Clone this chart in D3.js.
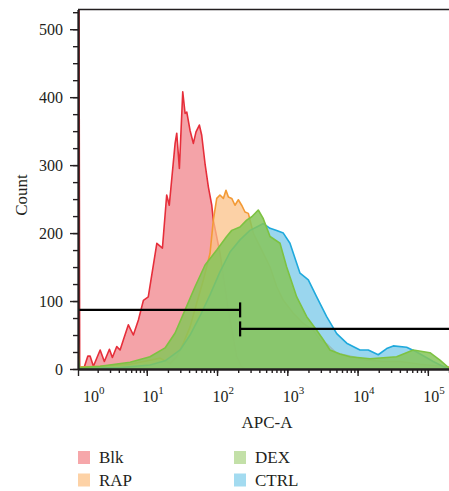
<!DOCTYPE html>
<html>
<head>
<meta charset="utf-8">
<script src="https://cdn.jsdelivr.net/npm/d3@7"></script>
<style>
    body { margin: 0; background: #fff; }
    svg { display: block; font-family: "Liberation Serif", "DejaVu Serif", serif; }
</style>
</head>
<body>
<div id="flow-graph"></div>
<script>
// histogram values: [APC-A, count]
var blkData = [
    [1.05, 0], [1.07, 900], [1.11, 2], [1.29, 3], [1.45, 19], [1.56, 19], [1.74, 4], [2.17, 28], [2.49, 11],
    [2.94, 29], [3.24, 17], [3.74, 33], [4.17, 28], [4.65, 43], [5.47, 65], [6.44, 50], [7.6, 72],
    [8.95, 101], [10.5, 106], [13.9, 185], [16.7, 178], [19.2, 256], [20.9, 241], [25.3, 332],
    [26.7, 347], [29.1, 295], [32.5, 408], [35.1, 376], [37.1, 378], [41.3, 351], [46.0, 332],
    [50.2, 349], [56.0, 359], [60.5, 344], [67.5, 302], [75.2, 268], [84.1, 241], [88.5, 219],
    [110, 171], [145, 87], [191, 18], [224, 3], [260, 0], [200000, 0]
];
var rapData = [
    [1.05, 47], [1.1, 3], [2.17, 4], [5.78, 7], [11.1, 13], [15.5, 16], [21.4, 8], [26.7, 18],
    [33.2, 38], [41.3, 62], [51.4, 97], [63.8, 131], [79.4, 170], [88.5, 219], [99, 251],
    [110, 256], [123, 251], [134, 263], [145, 253], [162, 251], [180, 241], [201, 249], [224, 241],
    [250, 231], [279, 229], [328, 200], [456, 170], [568, 150], [706, 121], [877, 101], [1216, 82],
    [1690, 67], [2344, 57], [2917, 43], [3631, 37], [5047, 23], [7798, 19], [13460, 13],
    [23230, 11], [40090, 11], [77270, 7], [200000, 3]
];
var dexData = [
    [1.05, 20], [1.1, 2], [2.17, 4], [5.78, 10], [11.1, 18], [18.2, 31], [25.3, 53], [35.1, 87],
    [48.6, 121], [67.5, 153], [99, 175], [137, 195], [162, 204], [212, 209], [264, 219], [312, 224],
    [386, 234], [451, 222], [568, 195], [787, 185], [979, 150], [1361, 106], [1888, 77], [2618, 57],
    [3251, 43], [4046, 28], [5623, 22], [7798, 18], [15030, 15], [35970, 18], [61940, 28],
    [107200, 24], [148600, 13], [200000, 1.5]
];
var ctrlData = [
    [1.05, 10], [1.1, 1], [4.17, 2], [11.1, 6], [18.2, 12], [29.8, 28], [41.3, 50], [57.3, 78],
    [79.4, 109], [110, 143], [153, 172], [212, 190], [294, 204], [367, 209], [456, 214], [568, 207],
    [690, 204], [877, 200], [1091, 185], [1517, 141], [1991, 131], [2618, 106], [3631, 77],
    [5047, 52], [7000, 38], [10810, 28], [14190, 28], [19680, 21], [25940, 30], [32210, 34],
    [49890, 32], [69340, 25], [119400, 11], [184900, 1], [200000, 0.5]
];

var seriesNames = ['Blk', 'RAP', 'DEX', 'CTRL'];
var drawOrder = ['Blk', 'RAP', 'CTRL', 'DEX'];
var xTickValues = [1, 10, 100, 1000, 10000, 100000];
var xTickExponents = ['0', '1', '2', '3', '4', '5'];
var yTickValues = [0, 100, 200, 300, 400, 500];
var gateBounds = [1.05, 213, 200000];
var gateCounts = [87, 59];

var seriesStyle = {
    'Blk':  {fill: '#f0848b', opacity: 0.75, line: '#e62e3a', legend: '#f6a7aa'},
    'RAP':  {fill: '#fbc288', opacity: 0.75, line: '#f39a35', legend: '#fdd2a6'},
    'CTRL': {fill: '#78c8e8', opacity: 0.75, line: '#1fa9dc', legend: '#a3dbf0'},
    'DEX':  {fill: '#86c65a', opacity: 0.85, line: '#7dc242', legend: '#c3e0a8'}
};
var seriesData = {'Blk': blkData, 'RAP': rapData, 'DEX': dexData, 'CTRL': ctrlData};

var width = 449, height = 491;
var plot = {left: 78, right: 449, top: 9.5, bottom: 369};
var ink = '#231f20';

var svg = d3.select('#flow-graph').append('svg')
            .attr('width', width)
            .attr('height', height);

var x = d3.scaleLog()
          .domain([1.05, 200000])
          .range([plot.left, plot.right]);

var y = d3.scaleLinear()
          .domain([0, 529])
          .range([plot.bottom, plot.top]);

svg.append('clipPath').attr('id', 'plot-clip')
   .append('rect')
   .attr('x', plot.left).attr('y', plot.top)
   .attr('width', plot.right - plot.left).attr('height', plot.bottom - plot.top);

var createHistograms = function createHistograms() {
    var layer = svg.append('g').attr('clip-path', 'url(#plot-clip)');
    var area = d3.area()
                 .x(function(d) { return x(d[0]); })
                 .y0(y(0))
                 .y1(function(d) { return y(d[1]); });
    var line = d3.line()
                 .x(function(d) { return x(d[0]); })
                 .y(function(d) { return y(d[1]); });

    drawOrder.forEach(function(name) {
        var st = seriesStyle[name];
        layer.append('path')
             .datum(seriesData[name])
             .attr('d', area)
             .attr('fill', st.fill)
             .attr('fill-opacity', st.opacity);
        layer.append('path')
             .datum(seriesData[name])
             .attr('d', line)
             .attr('fill', 'none')
             .attr('stroke', st.line)
             .attr('stroke-width', 1.6)
             .attr('stroke-linejoin', 'round');
    });
}

var createGates = function createGates() {
    var g = svg.append('g').attr('stroke', '#000').attr('stroke-width', 2.2);
    for (var i = 0; i < gateCounts.length; i++) {
        g.append('line')
         .attr('x1', x(gateBounds[i])).attr('x2', x(gateBounds[i + 1]))
         .attr('y1', y(gateCounts[i])).attr('y2', y(gateCounts[i]));
        // end bar sits on the shared boundary
        g.append('line')
         .attr('x1', x(gateBounds[1])).attr('x2', x(gateBounds[1]))
         .attr('y1', y(gateCounts[i]) - 7.5).attr('y2', y(gateCounts[i]) + 7.5);
    }
}

var createAxis = function createAxis() {
    // frame top
    svg.append('line')
       .attr('x1', plot.left).attr('x2', plot.right)
       .attr('y1', plot.top).attr('y2', plot.top)
       .attr('stroke', ink).attr('stroke-width', 1.4);

    // y axis: minor every 25, labels every 100
    var yMinor = d3.axisLeft(y).tickValues(d3.range(0, 526, 25)).tickSize(5).tickSizeOuter(0).tickFormat('');
    var yMajor = d3.axisLeft(y).tickValues(yTickValues).tickSize(8).tickSizeOuter(0).tickPadding(7);
    svg.append('g').attr('transform', 'translate(' + plot.left + ',0)').call(yMinor);
    svg.append('g').attr('class', 'y-major').attr('transform', 'translate(' + plot.left + ',0)').call(yMajor);

    // x axis: log minor ticks, decades long
    var lo = x.domain()[0];
    var xMinor = d3.axisBottom(x).tickValues(x.ticks()).tickSize(4).tickSizeOuter(0).tickFormat('');
    var xMajor = d3.axisBottom(x)
                   .tickValues(xTickValues.map(function(d) { return Math.max(d, lo); }))
                   .tickSize(7).tickSizeOuter(0).tickFormat('');
    svg.append('g').attr('transform', 'translate(0,' + plot.bottom + ')').call(xMinor);
    svg.append('g').attr('transform', 'translate(0,' + plot.bottom + ')').call(xMajor);

    svg.selectAll('.domain').attr('stroke', ink).attr('stroke-width', 1.8);
    svg.selectAll('.tick line').attr('stroke', ink).attr('stroke-width', 1.4);
    svg.selectAll('.y-major text').attr('font-size', 16).attr('fill', ink)
       .attr('font-family', '"Liberation Serif", "DejaVu Serif", serif');

    var labels = svg.append('g').attr('fill', ink);
    xTickValues.forEach(function(d, i) {
        var t = labels.append('text')
                      .attr('x', x(Math.max(d, lo)) + (d === 1 ? 5 : -4.5))
                      .attr('y', 402)
                      .attr('font-size', 16);
        t.append('tspan').text('10');
        t.append('tspan').attr('dy', -8).attr('font-size', 11).text(xTickExponents[i]);
    });

    svg.append('text')
       .attr('x', 267).attr('y', 428)
       .attr('text-anchor', 'middle')
       .attr('font-size', 17).attr('fill', ink)
       .text('APC-A');

    svg.append('text')
       .attr('transform', 'translate(27,195) rotate(-90)')
       .attr('text-anchor', 'middle')
       .attr('font-size', 17).attr('fill', ink)
       .text('Count');
}

var createLegend = function createLegend() {
    var legend = svg.append('g');
    seriesNames.forEach(function(name, i) {
        var col = Math.floor(i / 2), row = i % 2;
        var item = legend.append('g')
                         .attr('transform', 'translate(' + (78 + col * 156) + ',' + (451 + row * 22.5) + ')');
        item.append('rect').attr('width', 12).attr('height', 13).attr('fill', seriesStyle[name].legend);
        item.append('text')
            .attr('x', 21).attr('y', 12)
            .attr('font-size', 17).attr('fill', ink)
            .text(name);
    });
}

createHistograms();
createGates();
createAxis();
createLegend();
</script>
</body>
</html>
